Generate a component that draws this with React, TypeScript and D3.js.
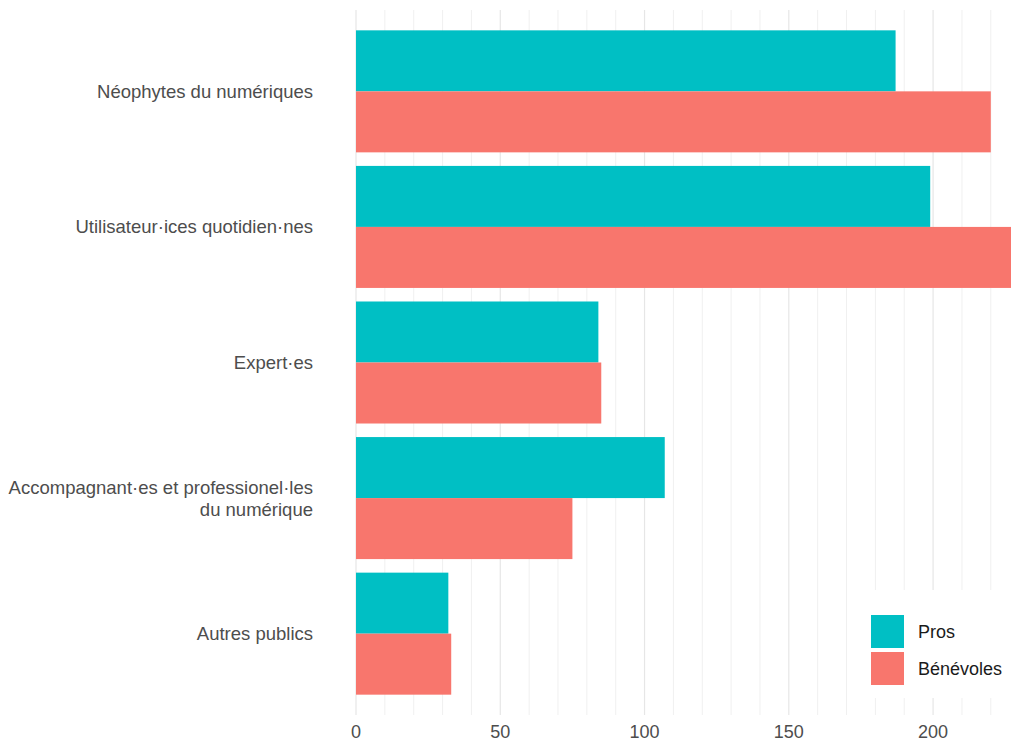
import React from "react";
import * as d3 from "d3";

const categories = [
  "Néophytes du numériques",
  "Utilisateur·ices quotidien·nes",
  "Expert·es",
  "Accompagnant·es et professionel·les\ndu numérique",
  "Autres publics",
];
const seriesNames = ["Pros", "Bénévoles"];
const prosValues = [187, 199, 84, 107, 32];
const benevolesValues = [220, 227, 85, 75, 33];
const xTicks = [0, 50, 100, 150, 200];
const colors = ["#00BFC4", "#F8766D"];

const W = 1011;
const H = 742;
const panel = { left: 356, right: 1011, top: 10, bottom: 715 };

export default function App() {
  const x = d3.scaleLinear().domain([0, 227]).range([panel.left, panel.right]);
  const n = categories.length;
  const step = (panel.bottom - panel.top) / (n - 1 + 1.2);
  const yCenter = (i: number) => panel.top + step * (0.6 + i);
  const bw = step * 0.9;
  const series = [prosValues, benevolesValues];
  const minor = d3.range(0, 230, 10).filter((v) => v % 50 !== 0);

  return (
    <svg width={W} height={H} style={{ position: "absolute", left: 0, top: 0 }}
      fontFamily="'Liberation Sans', Arial, sans-serif">
      <rect width={W} height={H} fill="#fff" />
      {minor.map((v) => (
        <line key={"m" + v} x1={x(v)} x2={x(v)} y1={panel.top} y2={panel.bottom}
          stroke="#f0f0f0" strokeWidth={1} />
      ))}
      {xTicks.map((v) => (
        <line key={"M" + v} x1={x(v)} x2={x(v)} y1={panel.top} y2={panel.bottom}
          stroke="#e6e6e6" strokeWidth={1.2} />
      ))}
      {categories.map((c, i) => {
        const yc = yCenter(i);
        return (
          <g key={c}>
            {series.map((vals, s) => (
              <rect key={s} x={x(0)} y={yc - bw / 2 + (s * bw) / 2}
                width={x(vals[i]) - x(0)} height={bw / 2} fill={colors[s]} />
            ))}
          </g>
        );
      })}
      {categories.map((c, i) => {
        const lines = c.split("\n");
        const yc = yCenter(i);
        const lh = 22;
        return (
          <text key={"l" + c} x={313} textAnchor="end" fontSize={18.5} fill="#4d4d4d">
            {lines.map((ln, k) => (
              <tspan key={k} x={313} y={yc + 6.5 + (k - (lines.length - 1) / 2) * lh}>{ln}</tspan>
            ))}
          </text>
        );
      })}
      {xTicks.map((v) => (
        <text key={"t" + v} x={x(v)} y={738} textAnchor="middle" fontSize={18} fill="#4d4d4d">{v}</text>
      ))}
      <rect x={857} y={590} width={154} height={108} fill="#fff" />
      {seriesNames.map((s, k) => (
        <g key={s}>
          <rect x={871} y={615 + k * 37} width={33} height={33} fill={colors[k]} />
          <text x={918} y={638 + k * 37} fontSize={18} fill="#1a1a1a">{s}</text>
        </g>
      ))}
    </svg>
  );
}
